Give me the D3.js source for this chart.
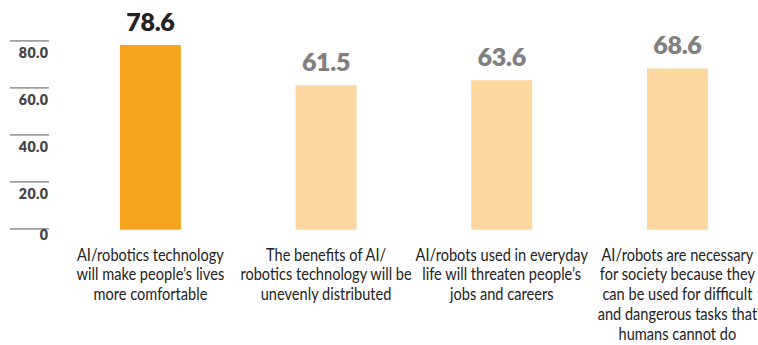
<!DOCTYPE html>
<html>
<head>
<meta charset="utf-8">
<script src="https://cdn.jsdelivr.net/npm/d3@7"></script>
<style>
  html, body { margin: 0; padding: 0; background: #fff; }
  svg { display: block; }
</style>
</head>
<body>
<svg id="chart" width="758" height="345"></svg>
<script>
// ---- data ----
const categories = [
  "AI/robotics technology will make people\u2019s lives more comfortable",
  "The benefits of AI/robotics technology will be unevenly distributed",
  "AI/robots used in everyday life will threaten people\u2019s jobs and careers",
  "AI/robots are necessary for society because they can be used for difficult and dangerous tasks that humans cannot do"
];
const categoryLines = [
  ["AI/robotics technology", "will make people\u2019s lives", "more comfortable"],
  ["The benefits of AI/", "robotics technology will be", "unevenly distributed"],
  ["AI/robots used in everyday", "life will threaten people\u2019s", "jobs and careers"],
  ["AI/robots are necessary", "for society because they", "can be used for difficult", "and dangerous tasks that", "humans cannot do"]
];
const values = [78.6, 61.5, 63.6, 68.6];
const highlighted = [true, false, false, false];
const yTicks = [0, 20, 40, 60, 80];
const yTickLabels = ["0", "20.0", "40.0", "60.0", "80.0"];

// ---- layout ----
const svg = d3.select("#chart");
const x = d3.scaleBand()
  .domain(categories)
  .range([62.5, 765.3])
  .paddingInner(0.653)
  .paddingOuter(0.327);
const y = d3.scaleLinear().domain([0, 80]).range([229.7, 41.7]);

// gridlines + tick labels
const grid = svg.append("g");
grid.selectAll("line").data(yTicks).join("line")
  .attr("x1", 10).attr("x2", 49)
  .attr("y1", d => y(d) - 0.8).attr("y2", d => y(d) - 0.8)
  .attr("stroke", "#a0a0a0").attr("stroke-width", 1.6);
grid.selectAll("text").data(yTicks).join("text")
  .attr("x", 48.5)
  .attr("y", d => y(d) + (d === 0 ? 9.8 : 16.4))
  .attr("text-anchor", "end")
  .attr("font-family", "Lato, 'Liberation Sans', sans-serif")
  .attr("font-weight", 800)
  .attr("font-size", 14.2)
  .attr("letter-spacing", 0.4)
  .attr("fill", "#444")
  .text((d, i) => yTickLabels[i]);

// bars
svg.append("g").selectAll("rect").data(values).join("rect")
  .attr("x", (d, i) => x(categories[i]))
  .attr("width", x.bandwidth())
  .attr("y", d => y(d))
  .attr("height", d => y(0) - y(d))
  .attr("fill", (d, i) => highlighted[i] ? "#F7A51F" : "#FDD6A0");

// value labels
svg.append("g").selectAll("text").data(values).join("text")
  .attr("x", (d, i) => x(categories[i]) + x.bandwidth() / 2)
  .attr("y", d => y(d) - 14)
  .attr("text-anchor", "middle")
  .attr("font-family", "Lato, 'Open Sans', sans-serif")
  .attr("font-weight", 800)
  .attr("font-size", 25)
  .attr("letter-spacing", -0.3)
  .attr("fill", (d, i) => highlighted[i] ? "#222" : "#808080")
  .text(d => d.toFixed(1));

// category labels (condensed look via horizontal scaling)
const lab = svg.append("g").selectAll("text").data(categories).join("text")
  .attr("text-anchor", "middle")
  .attr("font-family", "Lato, 'Liberation Sans', sans-serif")
  .attr("font-size", 18)
  .attr("fill", "#222")
  .attr("transform", d => `translate(${x(d) + x.bandwidth() / 2},260.5) scale(0.811,1)`);
lab.selectAll("tspan").data((d, i) => categoryLines[i]).join("tspan")
  .attr("x", 0)
  .attr("dy", (d, j) => j === 0 ? 0 : 19.8)
  .text(d => d);
</script>
</body>
</html>
